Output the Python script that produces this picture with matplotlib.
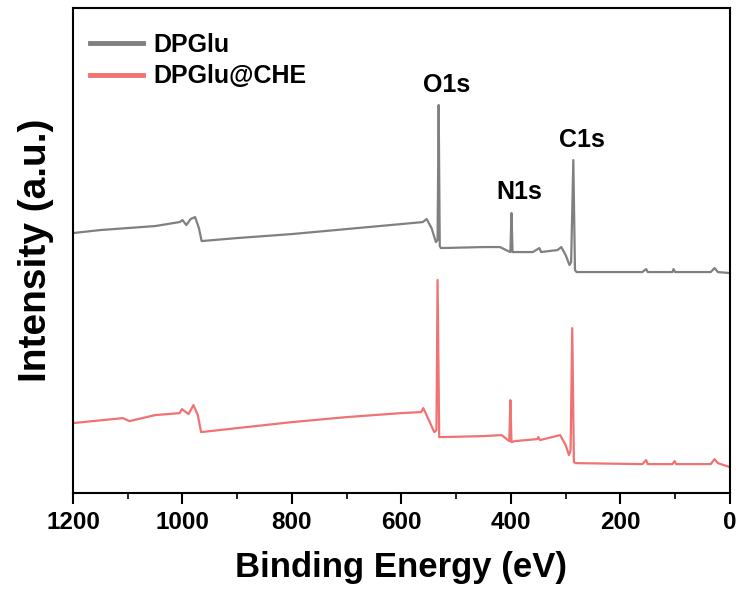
import matplotlib
matplotlib.use("Agg")
import matplotlib.pyplot as plt
from matplotlib.ticker import MultipleLocator

plt.rcParams['font.family'] = ['Liberation Sans', 'DejaVu Sans']
plt.rcParams['font.weight'] = 'bold'

# survey spectra (binding energy in eV, intensity in a.u.)
be_dpglu = [1200, 1150, 1100, 1050, 1005, 1000, 993, 985, 977, 970, 965, 900, 800, 700,
            600, 561, 554, 545, 537, 534, 532, 530, 528, 450, 420, 405, 401, 399, 397,
            360, 348, 345, 315, 308, 300, 293, 290, 286, 283, 280, 160, 153, 150, 105,
            103, 100, 35, 28, 22, 0]
int_dpglu = [260, 263, 265, 267, 271, 273, 268, 274, 276, 265, 252, 255, 259, 264,
             269, 271, 274, 265, 251, 253, 388, 247, 245, 246, 246, 242, 241, 280, 241,
             241, 245, 241, 243, 246, 238, 228, 231, 333, 223, 221, 221, 224, 221, 221,
             224, 221, 221, 225, 221, 220]

be_che = [1200, 1109, 1097, 1050, 1005, 1001, 989, 980, 972, 966, 900, 800, 700, 600,
          564, 560, 550, 540, 536, 534, 531, 528, 450, 417, 403, 401, 399, 393, 352,
          350, 347, 310, 300, 294, 291, 288, 285, 282, 160, 153, 150, 105, 101, 98,
          35, 28, 22, 0]
int_che = [70, 75, 72, 78, 80, 84, 79, 88, 78, 61, 65, 71, 76, 80,
           81, 85, 73, 61, 63, 213, 56, 56, 57, 58, 52, 93, 51, 52, 54,
           56, 53, 58, 48, 38, 43, 165, 31, 30, 29, 33, 29, 29, 32, 29,
           29, 34, 30, 26]

peak_names = ['O1s', 'N1s', 'C1s']
peak_be = [532, 399, 286]
peak_label_y = [408, 301, 353]

fig = plt.figure(figsize=(7.41, 5.97), dpi=100)
ax = fig.add_axes([0.0985, 0.174, 0.8865, 0.8126])

ax.plot(be_dpglu, int_dpglu, color='#808080', lw=1.6, label='DPGlu')
ax.plot(be_che, int_che, color='#f07272', lw=1.6, label='DPGlu@CHE')

for name, e, y in zip(peak_names, peak_be, peak_label_y):
    ax.text(e - 15, y, name, fontsize=18, fontweight='bold', ha='center', va='center')

ax.set_xlim(1200, 0)
ax.set_ylim(0, 485)
ax.xaxis.set_major_locator(MultipleLocator(200))
ax.xaxis.set_minor_locator(MultipleLocator(100))
ax.set_yticks([])
ax.tick_params(axis='x', which='major', direction='out', length=8, width=1.5, labelsize=17.5, pad=5)
ax.tick_params(axis='x', which='minor', direction='out', length=4, width=1.2)
for lab in ax.get_xticklabels():
    lab.set_fontweight('bold')
for s in ax.spines.values():
    s.set_linewidth(1.5)

ax.set_xlabel('Binding Energy (eV)', fontsize=25, fontweight='bold', labelpad=12)
ax.set_ylabel('Intensity (a.u.)', fontsize=28, fontweight='bold', labelpad=14)

leg = ax.legend(loc='upper left', frameon=False, fontsize=18, handlelength=2.1,
                handletextpad=0.4, labelspacing=0.3, borderaxespad=0.3,
                bbox_to_anchor=(0.0, 0.985))
for line in leg.get_lines():
    line.set_linewidth(3.5)
for t in leg.get_texts():
    t.set_fontweight('bold')

fig.savefig('out.png', dpi=100)
